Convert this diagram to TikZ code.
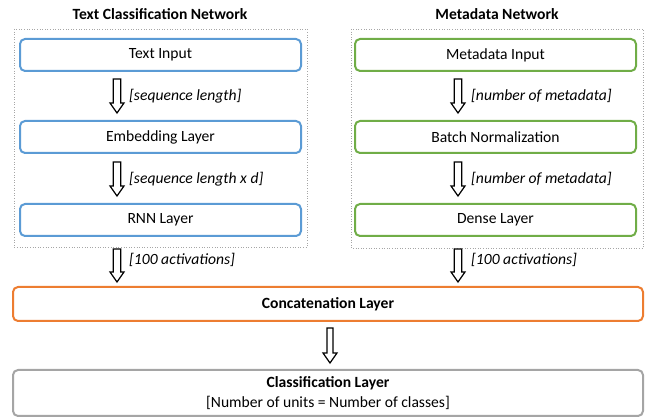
\documentclass[tikz,border=0pt]{standalone}
\usepackage{fontspec}
\setmainfont{Carlito}
\usetikzlibrary{calc}
\definecolor{oblue}{HTML}{5B9BD5}
\definecolor{ogreen}{HTML}{70AD47}
\definecolor{oorange}{HTML}{ED7D31}
\definecolor{ogray}{HTML}{A5A5A5}
\newcommand\fs{\fontsize{15.6pt}{18.5pt}\selectfont}
\tikzset{
  layer/.style={draw, line width=2pt, rounded corners=5pt, fill=white,
    minimum height=32pt, inner sep=0pt, font=\fs, align=center},
  bluebox/.style={layer, draw=oblue, minimum width=281pt},
  greenbox/.style={layer, draw=ogreen, minimum width=281pt},
  container/.style={draw=gray!70, line width=0.6pt, dotted},
  title/.style={font=\fs\bfseries},
  lbl/.style={anchor=west, inner sep=0pt, font=\fs\itshape},
  fatarr/.style={draw=black, fill=white, line width=1.2pt, line join=miter},
}
\newcommand\fatarrow[3][3.7pt]{%
  \draw[fatarr] let \p1=(#2), \p2=(#3) in
    ($(\x1,\y1)+(-#1,0)$) -- ($(\x1,\y1)+(#1,0)$) -- ($(\x1,\y2)+(#1,10pt)$) --
    ($(\x1,\y2)+(7pt,10pt)$) -- (\x1,\y2) -- ($(\x1,\y2)+(-7pt,10pt)$) --
    ($(\x1,\y2)+(-#1,10pt)$) -- cycle;}
\begin{document}
\begin{tikzpicture}[x=1pt,y=-1pt]
\useasboundingbox (0,0) rectangle (646,419);
% titles
\node[title] (t1) at (160,14) {Text Classification Network};
\node[title] (t2) at (497,14) {Metadata Network};
% containers
\draw[container] (14,29) rectangle (307,247);
\draw[container] (351,29) rectangle (643,248);
% left boxes
\node[bluebox] (ti) at (160.5,55) {Text Input};
\node[bluebox] (em) at (160.5,137) {Embedding Layer};
\node[bluebox] (rn) at (160.5,220) {RNN Layer};
% right boxes
\node[greenbox] (mi) at (495.5,55) {Metadata Input};
\node[greenbox] (bn) at (495.5,137) {Batch Normalization};
\node[greenbox] (de) at (495.5,220) {Dense Layer};
% bottom boxes
\node[layer, draw=oorange, minimum width=630pt, minimum height=34pt, font=\fs\bfseries] (cc) at (328,304) {Concatenation Layer};
\node[layer, draw=ogray, minimum width=630pt, minimum height=46pt] (cl) at (328,393)
  {\textbf{Classification Layer}\\[1pt][Number of units = Number of classes]};
% arrow coordinates
\coordinate (a1s) at (117,79);  \coordinate (a1e) at (117,113);
\coordinate (a2s) at (117,162); \coordinate (a2e) at (117,196);
\coordinate (a3s) at (117,249); \coordinate (a3e) at (117,282);
\coordinate (b1s) at (458,79);  \coordinate (b1e) at (458,113);
\coordinate (b2s) at (458,162); \coordinate (b2e) at (458,196);
\coordinate (b3s) at (458,249); \coordinate (b3e) at (458,282);
\coordinate (c1s) at (330,328); \coordinate (c1e) at (330,363);
\fatarrow{a1s}{a1e}
\fatarrow{a2s}{a2e}
\fatarrow{a3s}{a3e}
\fatarrow{b1s}{b1e}
\fatarrow{b2s}{b2e}
\fatarrow{b3s}{b3e}
\fatarrow[3pt]{c1s}{c1e}
% labels
\node[lbl] (l1) at (129,96) {[sequence length]};
\node[lbl] (l2) at (129,179) {[sequence length x d]};
\node[lbl] (l3) at (129,260) {[100 activations]};
\node[lbl] (r1) at (471,96) {[number of metadata]};
\node[lbl] (r2) at (471,179) {[number of metadata]};
\node[lbl] (r3) at (471,260) {[100 activations]};
\end{tikzpicture}
\end{document}
